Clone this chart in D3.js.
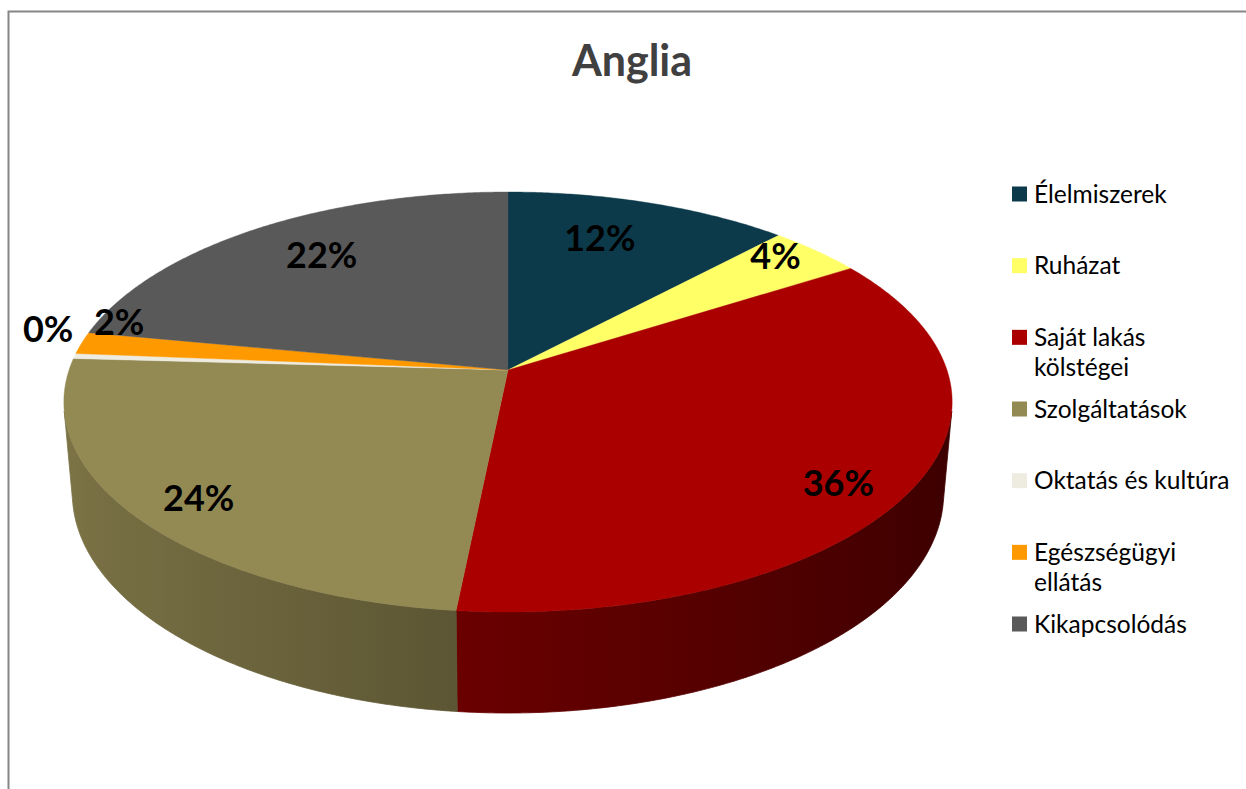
<!DOCTYPE html>
<html>
<head>
<meta charset="utf-8">
<script src="https://cdnjs.cloudflare.com/ajax/libs/d3/7.8.5/d3.min.js"></script>
<style>
  body { margin: 0; background: #fff; }
  svg { display: block; }
</style>
</head>
<body>
<div id="chart"></div>
<script>
// data
var categories = ["Élelmiszerek", "Ruházat", "Saját lakás kölstégei", "Szolgáltatások",
                  "Oktatás és kultúra", "Egészségügyi ellátás", "Kikapcsolódás"];
var values = [12.0, 4.0, 35.6, 24.3, 0.4, 1.7, 22.0];
var colors = ["#0c3a4a", "#ffff66", "#aa0000", "#938953", "#eeece1", "#ff9900", "#595959"];
var chartTitle = "Anglia";

// label placement on the top face: [radius, shift in percent of the circle]
var labelPlace = [[0.75, -1.0], [0.9, -0.75], [0.86, 1.25], [0.86, -0.3], [1.1, 1.9], [0.95, 1.95], [0.77, 0.7]];

var W = 1246, H = 789;

var svg = d3.select("#chart").append("svg")
    .attr("width", W)
    .attr("height", H);
var defs = svg.append("defs");

// chart area border
svg.append("rect")
    .attr("x", 8.5).attr("y", 11.5)
    .attr("width", W + 20).attr("height", H + 20)
    .attr("fill", "none")
    .attr("stroke", "#868686")
    .attr("stroke-width", 2);

svg.append("text")
    .attr("x", 632).attr("y", 76)
    .attr("text-anchor", "middle")
    .style("font-family", "Lato, 'Open Sans', sans-serif")
    .style("font-weight", "bold")
    .style("font-size", "43px")
    .attr("fill", "#404040")
    .text(chartTitle);

// simple perspective camera for the 3d pie
var cx = 508, cy = 370, focal = 2546, dist = 5.8;
var sinE = 0.4673, cosE = 0.884, thick = 0.2375;

function project(X, Y, Z) {
    var depth = dist - (Y * sinE + Z * cosE);
    var up = Y * cosE - Z * sinE;
    return [cx + focal * X / depth, cy - focal * up / depth];
}
// angle is clockwise from 12 o'clock, as in d3.pie
function rim(a, r, y) {
    return project(r * Math.sin(a), y, -r * Math.cos(a));
}

var pie = d3.pie().sort(null).startAngle(0).endAngle(2 * Math.PI);
var arcs = pie(values);

function steps(a0, a1) {
    var n = Math.max(2, Math.ceil((a1 - a0) / (Math.PI / 360)));
    return d3.range(n + 1).map(function(i) { return a0 + (a1 - a0) * i / n; });
}

var line = d3.line();

// outer wall, only the part turned to the camera, shaded left to right
var k = 1 / (dist * cosE);
var visLo = Math.acos(-k), visHi = 2 * Math.PI - Math.acos(-k);
var wall = svg.append("g");
arcs.forEach(function(d, i) {
    var a0 = Math.max(d.startAngle, visLo), a1 = Math.min(d.endAngle, visHi);
    if (a1 <= a0) return;
    var ts = steps(a0, a1);
    var top = ts.map(function(a) { return rim(a, 1, 0); });
    var bot = ts.map(function(a) { return rim(a, 1, -thick); }).reverse();

    var xs = top.map(function(p) { return p[0]; });
    var xMin = d3.min(xs), xMax = d3.max(xs);
    var grad = defs.append("linearGradient")
        .attr("id", "wall" + i)
        .attr("gradientUnits", "userSpaceOnUse")
        .attr("x1", xMin).attr("x2", xMax)
        .attr("y1", 0).attr("y2", 0);
    var shadeAt = ts.map(function(a, j) {
        return { off: (xs[j] - xMin) / (xMax - xMin || 1), shade: 0.6 - 0.25 * Math.sin(a) };
    }).sort(function(p, q) { return p.off - q.off; });
    shadeAt.filter(function(p, j) { return j % 6 === 0 || j === shadeAt.length - 1; })
        .forEach(function(p) {
            grad.append("stop")
                .attr("offset", p.off)
                .attr("stop-color", d3.interpolateRgb("#000000", colors[i])(p.shade));
        });

    wall.append("path")
        .attr("d", line(top.concat(bot)) + "Z")
        .attr("fill", "url(#wall" + i + ")")
        .attr("stroke", "url(#wall" + i + ")")
        .attr("stroke-width", 0.8);
});

// top face
svg.append("g").selectAll("path")
    .data(arcs)
    .enter().append("path")
    .attr("d", function(d) {
        var pts = [project(0, 0, 0)].concat(steps(d.startAngle, d.endAngle).map(function(a) { return rim(a, 1, 0); }));
        return line(pts) + "Z";
    })
    .attr("fill", function(d, i) { return colors[i]; })
    .attr("stroke", function(d, i) { return colors[i]; })
    .attr("stroke-width", 0.4);

// data labels
svg.append("g").selectAll("text")
    .data(arcs)
    .enter().append("text")
    .attr("transform", function(d, i) {
        var a = (d.startAngle + d.endAngle) / 2 + labelPlace[i][1] / 100 * 2 * Math.PI;
        var p = rim(a, labelPlace[i][0], 0);
        return "translate(" + p[0] + "," + p[1] + ")";
    })
    .attr("dy", "0.36em")
    .attr("text-anchor", "middle")
    .style("font-family", "Lato, 'Open Sans', sans-serif")
    .style("font-weight", "bold")
    .style("font-size", "36px")
    .attr("fill", "#000")
    .text(function(d) { return d3.format(".0f")(d.data) + "%"; });

// legend
var legY = d3.scalePoint().domain(categories).range([194, 624]);
var leg = svg.append("g").selectAll("g")
    .data(categories)
    .enter().append("g")
    .attr("transform", function(d) { return "translate(1012," + legY(d) + ")"; });

leg.append("rect")
    .attr("x", 0).attr("y", -7.5)
    .attr("width", 15).attr("height", 15)
    .attr("fill", function(d, i) { return colors[i]; });

leg.append("text")
    .attr("x", 22)
    .attr("dy", "0.36em")
    .style("font-family", "Lato, 'Open Sans', sans-serif")
    .style("font-size", "24.5px")
    .attr("fill", "#000")
    .each(function(d) {
        var el = d3.select(this);
        var words = d.split(" "), cur = [];
        var ts = el.append("tspan").attr("x", 22);
        words.forEach(function(w) {
            cur.push(w);
            ts.text(cur.join(" "));
            if (ts.node().getComputedTextLength() > 202 && cur.length > 1) {
                cur.pop();
                ts.text(cur.join(" "));
                cur = [w];
                ts = el.append("tspan").attr("x", 22).attr("dy", 30).text(w);
            }
        });
    });
</script>
</body>
</html>
